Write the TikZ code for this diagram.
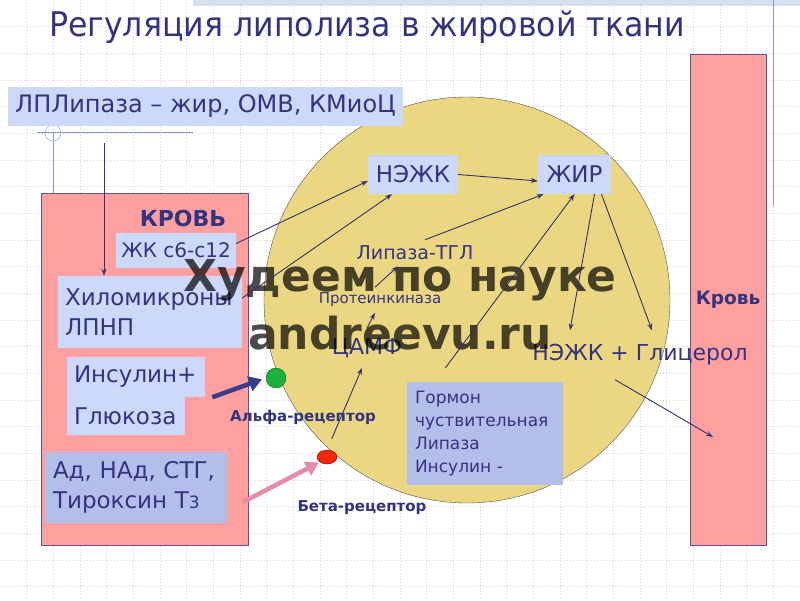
\documentclass[tikz,border=0pt]{standalone}
\usepackage{fontspec}
\setmainfont{DejaVu Sans}
\newfontfamily\titlefont[FakeStretch=0.93]{DejaVu Sans}
\usepackage{xcolor}
\usetikzlibrary{arrows.meta, positioning, calc, shapes.geometric}

\definecolor{txtblue}{RGB}{51,51,128}
\definecolor{boxblue}{RGB}{204,217,250}
\definecolor{boxlav}{RGB}{180,190,235}
\definecolor{pinkfill}{RGB}{255,160,160}
\definecolor{bordercol}{RGB}{95,85,140}
\definecolor{cellfill}{RGB}{235,215,130}
\definecolor{cellborder}{RGB}{85,80,90}
\definecolor{arrcol}{RGB}{50,50,110}
\definecolor{fatblue}{RGB}{60,60,140}
\definecolor{fatpink}{RGB}{228,140,170}
\definecolor{alphagreen}{RGB}{30,175,65}
\definecolor{betared}{RGB}{245,40,10}
\definecolor{decocol}{RGB}{140,150,210}
\definecolor{stripcol}{RGB}{215,222,240}

\begin{document}
\begin{tikzpicture}[x=1pt, y=-1pt,
    lbl/.style={text=txtblue, inner sep=0pt},
    bluebox/.style={lbl, fill=boxblue, font=\fontsize{23}{30}\selectfont},
    lavbox/.style={lbl, fill=boxlav},
    arr/.style={draw=arrcol, line width=0.9pt, -{Stealth[length=7pt,width=5pt]}},
    fatarr/.style={line width=4.5pt, -{Triangle[length=13pt,width=15pt]}},
    gridline/.style={draw=gray!35, line width=0.7pt, dash pattern=on 1pt off 2pt}]

  \useasboundingbox (0,0) rectangle (800,600);
  \fill[white] (0,0) rectangle (800,600);
  \foreach \i in {1,...,29}
    \draw[gridline] (\i*26.667,0) -- (\i*26.667,600);
  \foreach \j in {1,...,22}
    \draw[gridline] (0,\j*26.667) -- (800,\j*26.667);

  % slide decoration
  \fill[stripcol] (193,0) rectangle (800,6);
  \draw[decocol, line width=0.8pt] (773,0) -- (773,206);
  \draw[decocol] (37,132) -- (193,132);
  \draw[decocol] (53,133) circle (8pt);
  \draw[decocol] (53,132) -- (53,193);

  \node[lbl, font=\titlefont\fontsize{34}{40}\selectfont] (title) at (367,27) {Регуляция липолиза в жировой ткани};

  % blood (left), cell, blood (right)
  \node[draw=bordercol, fill=pinkfill, minimum width=207pt, minimum height=352pt, inner sep=0pt] (blood) at (144.5,369) {};
  \node[circle, draw=cellborder, fill=cellfill, minimum size=406pt, inner sep=0pt] (cell) at (467,300) {};
  \node[draw=bordercol, fill=pinkfill, minimum width=76pt, minimum height=491pt, inner sep=0pt] (bar) at (728,299.5) {};
  \coordinate (glout) at (713,437);
  \coordinate (lplfoot) at (104,143);

  \node[lbl, font=\bfseries\fontsize{22}{26}\selectfont] (krov) at (183,218) {КРОВЬ};
  \node[lbl, font=\bfseries\fontsize{18.5}{22}\selectfont] (krov2) at (728,300) {Кровь};

  \node[bluebox, minimum width=395pt, minimum height=39pt, font=\fontsize{24}{30}\selectfont] (lpl) at (205.5,106.5) {ЛПЛипаза – жир, ОМВ, КМиоЦ};
  \node[bluebox, minimum width=120pt, minimum height=35pt, font=\fontsize{20}{24}\selectfont] (zhk) at (176,250.5) {ЖК с6-с12};
  \node[bluebox, text width=170pt, inner xsep=7pt, minimum height=72pt, align=left] (hilo) at (150,312) {Хиломикроны\\ЛПНП};
  \node[bluebox, text width=124pt, inner xsep=7pt, minimum height=40pt, align=left] (ins1) at (136,377) {Инсулин+};
  \node[bluebox, text width=104pt, inner xsep=7pt, minimum height=38pt, align=left] (ins2) at (126,416) {Глюкоза};
  \node[lavbox, font=\fontsize{23}{30}\selectfont, text width=166pt, inner xsep=8pt, minimum height=71pt, align=left] (ad) at (136,487.5) {Ад, НАд, СТГ,\\Тироксин Т{\fontsize{17}{20}\selectfont 3}};

  \node[bluebox, minimum width=90pt, minimum height=39pt] (nezhk) at (413,174.5) {НЭЖК};
  \node[bluebox, minimum width=73pt, minimum height=39pt] (zhir) at (574.5,174.5) {ЖИР};
  \node[lbl, font=\fontsize{19}{23}\selectfont, inner ysep=6pt] (lipaza) at (415,253) {Липаза-ТГЛ};
  \node[lbl, font=\fontsize{15}{18}\selectfont, inner ysep=5.5pt] (kinase) at (380,300) {Протеинкиназа};
  \node[lbl, font=\fontsize{22}{26}\selectfont, inner ysep=10pt] (camp) at (367,348) {ЦАМФ};
  \node[lbl, font=\fontsize{22}{26}\selectfont, inner ysep=14pt] (gl) at (640,355) {НЭЖК + Глицерол};
  \node[lavbox, font=\fontsize{17}{23}\selectfont, text width=140pt, inner xsep=8pt, minimum height=103pt, align=left] (gormon) at (485,433.5) {Гормон\\чуствительная\\Липаза\\Инсулин -};

  % receptors
  \node[circle, draw=green!45!black, fill=alphagreen, minimum size=20pt, inner sep=0pt] (alpha) at (276,378) {};
  \node[ellipse, draw=red!55!black, fill=betared, minimum width=20pt, minimum height=14pt, inner sep=0pt] (beta) at (327,457) {};
  \node[lbl, font=\bfseries\fontsize{15}{18}\selectfont] (alphatxt) at (303,417) {Альфа-рецептор};
  \node[lbl, font=\bfseries\fontsize{15}{18}\selectfont] (betatxt) at (362,508) {Бета-рецептор};

  % watermark
  \node[text=black, opacity=0.7, font=\bfseries\fontsize{44}{50}\selectfont, inner sep=0pt] (wm1) at (400,280) {Худеем по науке};
  \node[text=black, opacity=0.7, font=\bfseries\fontsize{44}{50}\selectfont, inner sep=0pt] (wm2) at (400,333) {andreevu.ru};

  % connectors
  \draw[arr] (lplfoot) -- (lplfoot |- hilo.north);
  \draw[arr] ([yshift=7pt]zhk.east) -- ([yshift=-6.5pt]nezhk.west);
  \draw[arr] ([yshift=14pt]hilo.east) -- ([xshift=-21pt]nezhk.south);
  \draw[arr] (nezhk.east) -- ([yshift=-6.5pt]zhir.west);
  \draw[arr] ([xshift=10pt]lipaza.north) -- ([xshift=-31pt]zhir.south);
  \draw[arr] ([xshift=-5pt]kinase.north) -- ([xshift=-17pt]lipaza.south);
  \draw[arr] (camp.north) -- ([xshift=-5pt]kinase.south);
  \draw[arr, shorten <=12pt] (beta.north) -- ([xshift=-5pt]camp.south);
  \draw[arr, shorten <=17pt] ([xshift=-50pt]gormon.north) -- (zhir.south);
  \draw[arr] ([xshift=20pt]zhir.south) -- ([xshift=-70pt]gl.north);
  \draw[arr] ([xshift=27pt]zhir.south) -- ([xshift=12pt]gl.north);
  \draw[arr] ([xshift=-25pt]gl.south) -- (glout);

  \draw[fatarr, fatblue, shorten >=4pt] ([xshift=7pt]ins1.south east) -- (alpha.west);
  \draw[fatarr, fatpink, shorten >=1pt] ([shift={(16pt,-14.5pt)}]ad.east) -- (beta.south west);
\end{tikzpicture}
\end{document}
